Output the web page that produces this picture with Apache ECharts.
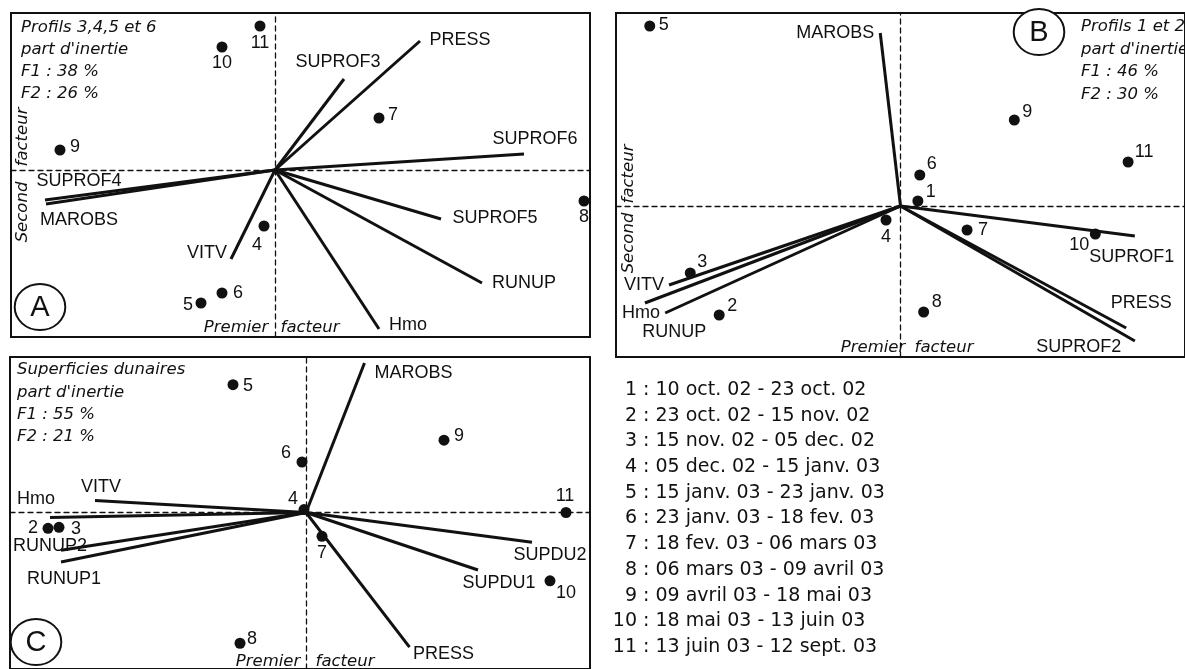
<!DOCTYPE html>
<html>
<head>
<meta charset="utf-8">
<script src="https://cdn.jsdelivr.net/npm/echarts@6/dist/echarts.min.js"></script>
<style>
  html, body { margin: 0; background: #fff; }
  #chart { width: 1185px; height: 669px; }
</style>
</head>
<body>
<div id="chart"></div>
<script>
// --- donnees (coordonnees factorielles, F1 / F2) ---

// A : profils 3,4,5 et 6
const pointsA = [
  ['11', -0.15, 1.44], ['10', -0.53, 1.23], ['7', 1.04, 0.52], ['9', -2.15, 0.20],
  ['8', 3.09, -0.31], ['4', -0.11, -0.56], ['6', -0.53, -1.23], ['5', -0.74, -1.33]
]
const vectorsA = [
  ['PRESS', 1.45, 1.29], ['SUPROF3', 0.69, 0.91], ['SUPROF6', 2.49, 0.16],
  ['SUPROF4', -2.30, -0.30], ['MAROBS', -2.29, -0.34], ['SUPROF5', 1.66, -0.49],
  ['RUNUP', 2.07, -1.13], ['Hmo', 1.04, -1.59], ['VITV', -0.44, -0.89]
]

// B : profils 1 et 2
const pointsB = [
  ['5', -2.60, 1.80], ['9', 1.18, 0.86], ['11', 2.36, 0.44], ['6', 0.20, 0.31],
  ['1', 0.18, 0.05], ['4', -0.15, -0.14], ['7', 0.69, -0.24], ['10', 2.02, -0.28],
  ['3', -2.18, -0.67], ['2', -1.88, -1.09], ['8', 0.24, -1.06]
]
const vectorsB = [
  ['MAROBS', -0.21, 1.73], ['SUPROF1', 2.43, -0.30], ['PRESS', 2.34, -1.22],
  ['SUPROF2', 2.43, -1.35], ['VITV', -2.40, -0.79], ['Hmo', -2.65, -0.97],
  ['RUNUP', -2.44, -1.07]
]

// C : superficies dunaires
const pointsC = [
  ['5', -0.73, 1.29], ['9', 1.38, 0.73], ['6', -0.04, 0.51], ['4', -0.02, 0.03],
  ['11', 2.60, 0.00], ['2', -2.58, -0.16], ['3', -2.47, -0.15], ['7', 0.16, -0.24],
  ['10', 2.44, -0.69], ['8', -0.66, -1.32]
]
const vectorsC = [
  ['MAROBS', 0.585, 1.51], ['VITV', -2.11, 0.12], ['Hmo', -2.56, -0.05],
  ['RUNUP2', -2.45, -0.38], ['RUNUP1', -2.45, -0.50], ['SUPDU2', 2.26, -0.30],
  ['SUPDU1', 1.72, -0.58], ['PRESS', 1.035, -1.36]
]

const titlesA = ['Profils 3,4,5 et 6', 'part d\'inertie', 'F1 : 38 %', 'F2 : 26 %']
const titlesB = ['Profils 1 et 2', 'part d\'inertie', 'F1 : 46 %', 'F2 : 30 %']
const titlesC = ['Superficies dunaires', 'part d\'inertie', 'F1 : 55 %', 'F2 : 21 %']

const periodNums = ['1', '2', '3', '4', '5', '6', '7', '8', '9', '10', '11']
const periods = [
  '10 oct. 02 - 23 oct. 02', '23 oct. 02 - 15 nov. 02', '15 nov. 02 - 05 dec. 02',
  '05 dec. 02 - 15 janv. 03', '15 janv. 03 - 23 janv. 03', '23 janv. 03 - 18 fev. 03',
  '18 fev. 03 - 06 mars 03', '06 mars 03 - 09 avril 03', '09 avril 03 - 18 mai 03',
  '18 mai 03 - 13 juin 03', '13 juin 03 - 12 sept. 03'
]

// --- placement des etiquettes (decalage du centre du texte, px) ---
const pointLabA = { 11: [0, 17], 10: [0, 16], 7: [14, -3], 9: [15, -3], 8: [0, 16], 4: [-7, 19], 6: [16, 0], 5: [-13, 2] }
const vecLabA = { PRESS: [40, -1], SUPROF3: [-6, -17], SUPROF6: [11, -15], SUPROF4: [34, -19], MAROBS: [33, 16], SUPROF5: [54, -1], RUNUP: [42, 0], Hmo: [29, -4], VITV: [-24, -6] }
const pointLabB = { 5: [14, -1], 9: [13, -8], 11: [16, -10], 6: [12, -11], 1: [13, -9], 4: [0, 17], 7: [16, 0], 10: [-16, 11], 3: [12, -11], 2: [13, -9], 8: [13, -10] }
const vecLabB = { MAROBS: [-45, 0], SUPROF1: [-3, 21], PRESS: [15, -25], SUPROF2: [-56, 6], VITV: [-25, 0], Hmo: [-4, 10], RUNUP: [9, 19] }
const pointLabC = { 5: [15, 1], 9: [15, -4], 6: [-16, -9], 4: [-11, -11], 11: [-1, -16], 2: [-15, 0], 3: [17, 2], 7: [0, 17], 10: [16, 12], 8: [12, -4] }
const vecLabC = { MAROBS: [49, 10], VITV: [6, -14], Hmo: [-14, -18], RUNUP2: [-11, -4], RUNUP1: [3, 17], SUPDU2: [18, 13], SUPDU1: [21, 13], PRESS: [34, 7] }

const ink = '#111'
const grids = [
  { left: 11, top: 13, width: 579, height: 324 },
  { left: 616, top: 13, width: 590, height: 344 },
  { left: 10, top: 357, width: 580, height: 315 }
]
const ranges = [
  { x: [-2.64, 3.15], y: [-1.67, 1.57] },
  { x: [-2.95, 2.95], y: [-1.51, 1.93] },
  { x: [-2.96, 2.84], y: [-1.58, 1.57] }
]

function axis(i, r) {
  return {
    type: 'value', gridIndex: i, min: r[0], max: r[1],
    splitLine: { show: false }, axisTick: { show: false }, axisLabel: { show: false },
    axisLine: { onZero: true, lineStyle: { color: ink, width: 1.3, type: [5, 4] } }
  }
}

function vectorLines(i, vecs) {
  return {
    type: 'lines', coordinateSystem: 'cartesian2d', xAxisIndex: i, yAxisIndex: i,
    polyline: false, silent: true, z: 3,
    lineStyle: { color: ink, width: 3, opacity: 1 },
    data: vecs.map(v => ({ coords: [[0, 0], [v[1], v[2]]] }))
  }
}

function labelled(i, rows, offs, size, font) {
  return {
    type: 'scatter', xAxisIndex: i, yAxisIndex: i, z: 5, silent: true,
    symbol: 'circle', symbolSize: size,
    itemStyle: { color: size > 1 ? ink : 'rgba(0,0,0,0)', opacity: 1 },
    label: {
      show: true, position: 'inside', formatter: '{b}', color: ink, opacity: 1,
      fontFamily: 'Liberation Sans', fontSize: font
    },
    data: rows.map(p => ({ name: p[0], value: [p[1], p[2]], label: { offset: offs[p[0]] || [0, 0] } }))
  }
}

function txt(x, y, text, font, align, rot) {
  return {
    type: 'text', x: x, y: y, rotation: rot || 0, z: 10,
    style: { text: text, font: font, fill: ink, align: align || 'left', verticalAlign: 'middle', textAlign: align || 'left', textVerticalAlign: 'middle' }
  }
}

function badge(x, y, letter) {
  return [
    { type: 'circle', x: x, y: y, scaleX: 1.1, z: 9, shape: { cx: 0, cy: 0, r: 23 }, style: { fill: '#fff', stroke: ink, lineWidth: 1.8 } },
    txt(x, y + 1, letter, '29px "Liberation Sans"', 'center')
  ]
}

const italic = 'italic 16.5px "DejaVu Sans"'
const graphics = []
titlesA.forEach((t, k) => graphics.push(txt(21, 28 + 22 * k, t, italic)))
titlesB.forEach((t, k) => graphics.push(txt(1081, 27 + 22.5 * k, t, italic)))
titlesC.forEach((t, k) => graphics.push(txt(17, 370 + 22.3 * k, t, italic)))
graphics.push(...badge(40, 307, 'A'), ...badge(1039, 32, 'B'), ...badge(36, 642, 'C'))
graphics.push(
  txt(236, 328, 'Premier', italic, 'center'), txt(310, 328, 'facteur', italic, 'center'),
  txt(873, 348, 'Premier', italic, 'center'), txt(944, 348, 'facteur', italic, 'center'),
  txt(268, 662, 'Premier', italic, 'center'), txt(345, 662, 'facteur', italic, 'center'),
  txt(23, 212, 'Second', italic, 'center', Math.PI / 2), txt(23, 137, 'facteur', italic, 'center', Math.PI / 2),
  txt(629, 243, 'Second', italic, 'center', Math.PI / 2), txt(629, 174, 'facteur', italic, 'center', Math.PI / 2)
)
periods.forEach((p, k) => {
  const y = 390 + 25.7 * k
  graphics.push(txt(637, y, periodNums[k], '19px "DejaVu Sans"', 'right'))
  graphics.push(txt(637, y, ' : ' + p, '19px "DejaVu Sans"', 'left'))
})

const chart = echarts.init(document.getElementById('chart'))
chart.setOption({
  animation: false,
  backgroundColor: '#fff',
  grid: grids.map(g => Object.assign({ show: true, borderColor: ink, borderWidth: 2, backgroundColor: 'transparent' }, g)),
  xAxis: ranges.map((r, i) => axis(i, r.x)),
  yAxis: ranges.map((r, i) => axis(i, r.y)),
  graphic: graphics,
  series: [
    vectorLines(0, vectorsA), labelled(0, vectorsA, vecLabA, 1, 18), labelled(0, pointsA, pointLabA, 11, 18),
    vectorLines(1, vectorsB), labelled(1, vectorsB, vecLabB, 1, 18), labelled(1, pointsB, pointLabB, 11, 18),
    vectorLines(2, vectorsC), labelled(2, vectorsC, vecLabC, 1, 18), labelled(2, pointsC, pointLabC, 11, 18)
  ]
})
</script>
</body>
</html>
